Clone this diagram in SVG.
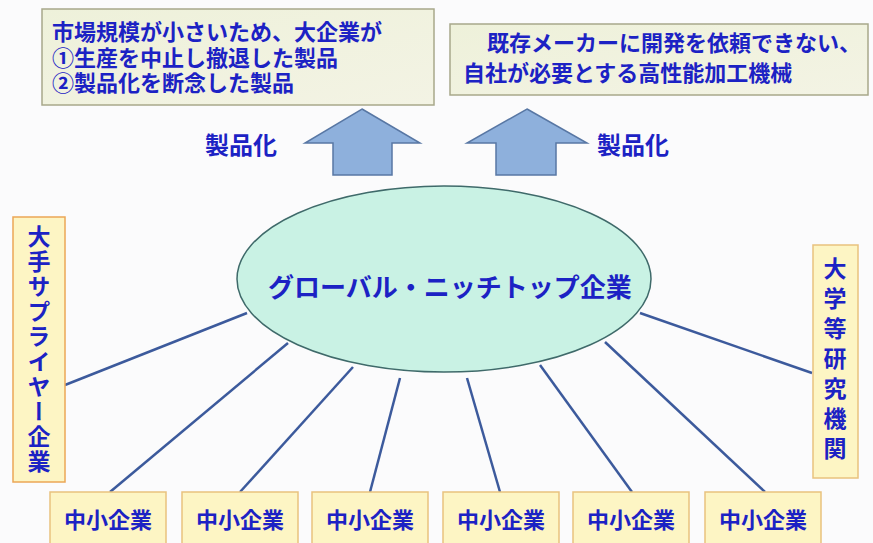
<svg xmlns="http://www.w3.org/2000/svg" width="873" height="543" viewBox="0 0 873 543">
<defs>
<linearGradient id="gTop" x1="0" y1="0" x2="1" y2="1">
<stop offset="0" stop-color="#eef1da"/>
<stop offset="1" stop-color="#f3f3e4"/>
</linearGradient>
<style>
.t{font-family:"Noto Sans CJK JP","Noto Sans CJK SC",sans-serif;font-weight:bold;fill:#1c22c4;}
.top{fill:url(#gTop);stroke:#a8a88a;stroke-width:1.5;}
.yb{fill:#fdf5c4;stroke:#e9c27e;stroke-width:1.5;}
.arr{fill:#8eb0dc;stroke:#5877a4;stroke-width:1.5;}
.con line{stroke:#3c5a9c;stroke-width:2.5;}
.v{writing-mode:vertical-rl;text-orientation:upright;}
</style>
</defs>
<rect width="873" height="543" fill="#fbfbfc"/>

<g class="con">
<line x1="65" y1="385" x2="247" y2="313"/>
<line x1="110" y1="492" x2="288" y2="343"/>
<line x1="240" y1="492" x2="353" y2="367"/>
<line x1="370" y1="492" x2="400" y2="378"/>
<line x1="500" y1="492" x2="467" y2="378"/>
<line x1="632" y1="492" x2="540" y2="365"/>
<line x1="765" y1="492" x2="605" y2="342"/>
<line x1="812" y1="373" x2="640" y2="313"/>
</g>

<g id="box-left-top">
<rect class="top" x="42" y="9" width="392" height="96"/>
<text class="t" font-size="22" x="52" y="40">市場規模が小さいため、大企業が</text>
<text class="t" font-size="22" x="52" y="66">①生産を中止し撤退した製品</text>
<text class="t" font-size="22" x="52" y="91">②製品化を断念した製品</text>
</g>

<g id="box-right-top">
<rect class="top" x="450" y="24" width="418" height="71"/>
<text class="t" font-size="22" x="487" y="51">既存メーカーに開発を依頼できない、</text>
<text class="t" font-size="22" x="463" y="81">自社が必要とする高性能加工機械</text>
</g>

<g id="arrow-left">
<polygon class="arr" points="362,109 420,143 392,143 392,175 333,175 333,143 305,143"/>
<text class="t" font-size="24" x="205" y="154">製品化</text>
</g>

<g id="arrow-right">
<polygon class="arr" points="527,109 587,143 556,143 556,175 496,175 496,143 467,143"/>
<text class="t" font-size="24" x="597" y="154">製品化</text>
</g>

<g id="gnt">
<ellipse cx="444" cy="279" rx="207" ry="93" fill="#c9f2e4" stroke="#3f6a6a" stroke-width="1.5"/>
<text class="t" font-size="26" x="268" y="297">グローバル・ニッチトップ企業</text>
</g>

<g id="supplier">
<rect class="yb" x="13" y="217" width="52" height="265" style="stroke:#eba756"/>
<text class="t v" font-size="23" x="39" y="225" letter-spacing="2">大手サプライヤー企業</text>
</g>

<g id="university">
<rect class="yb" x="813" y="245" width="45" height="233"/>
<text class="t v" font-size="23" x="835" y="257" letter-spacing="7">大学等研究機関</text>
</g>

<g id="sme1"><rect class="yb" x="50" y="492" width="116" height="60"/><text class="t" font-size="22" x="108" y="528" text-anchor="middle">中小企業</text></g>
<g id="sme2"><rect class="yb" x="182" y="492" width="116" height="60"/><text class="t" font-size="22" x="240" y="528" text-anchor="middle">中小企業</text></g>
<g id="sme3"><rect class="yb" x="312" y="492" width="116" height="60"/><text class="t" font-size="22" x="370" y="528" text-anchor="middle">中小企業</text></g>
<g id="sme4"><rect class="yb" x="443" y="492" width="116" height="60"/><text class="t" font-size="22" x="501" y="528" text-anchor="middle">中小企業</text></g>
<g id="sme5"><rect class="yb" x="573" y="492" width="116" height="60"/><text class="t" font-size="22" x="631" y="528" text-anchor="middle">中小企業</text></g>
<g id="sme6"><rect class="yb" x="705" y="492" width="116" height="60"/><text class="t" font-size="22" x="763" y="528" text-anchor="middle">中小企業</text></g>
</svg>
